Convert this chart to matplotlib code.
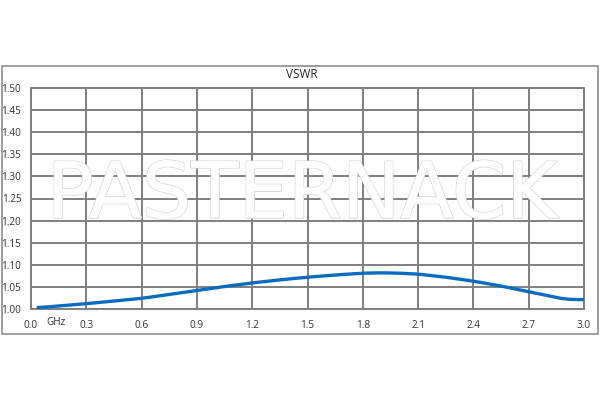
import numpy as np
import matplotlib.pyplot as plt
import matplotlib.patheffects as pe
from matplotlib.patches import Rectangle

# Data
freq_ghz = [0.04, 0.15, 0.3, 0.45, 0.6, 0.75, 0.9, 1.05, 1.2, 1.35, 1.5, 1.65,
            1.8, 1.9, 2.0, 2.1, 2.25, 2.4, 2.55, 2.7, 2.8, 2.9, 3.0]
vswr = [1.003, 1.007, 1.012, 1.018, 1.024, 1.033, 1.042, 1.051, 1.059, 1.066,
        1.072, 1.077, 1.081, 1.082, 1.081, 1.079, 1.072, 1.063, 1.052, 1.039,
        1.030, 1.022, 1.021]
x_ticks = [0.0, 0.3, 0.6, 0.9, 1.2, 1.5, 1.8, 2.1, 2.4, 2.7, 3.0]
y_ticks = [1.00, 1.05, 1.10, 1.15, 1.20, 1.25, 1.30, 1.35, 1.40, 1.45, 1.50]

plt.rcParams['font.family'] = ['Open Sans', 'DejaVu Sans']

fig = plt.figure(figsize=(6, 4), dpi=100)
ax = fig.add_axes([31 / 600, 91 / 400, 553 / 600, 221 / 400])

# outer frame
fig.patches.append(Rectangle((2 / 600, 66 / 400), 596 / 600, 268 / 400,
                             transform=fig.transFigure, fill=False,
                             edgecolor='#8c8c8c', linewidth=1.2))

# smooth line through the read points
xs = np.linspace(freq_ghz[0], freq_ghz[-1], 300)
ys = np.interp(xs, freq_ghz, vswr)
k = np.ones(9) / 9
ys_s = np.convolve(np.pad(ys, 4, mode='edge'), k, mode='valid')
ax.plot(xs, ys_s, color='#0a6cc0', linewidth=2.4, zorder=3)

ax.set_xlim(0, 3.0)
ax.set_ylim(1.0, 1.5)
ax.set_xticks(x_ticks)
ax.set_yticks(y_ticks)
ax.set_xticklabels([f'{v:.1f}' for v in x_ticks])
ax.set_yticklabels([f'{v:.2f}' for v in y_ticks])
ax.tick_params(length=0, labelsize=7.2, colors='#333333')
ax.tick_params(axis='y', pad=7)
ax.tick_params(axis='x', pad=8)
ax.grid(True, color='#7f7f7f', linewidth=1.4)
for s in ax.spines.values():
    s.set_color('#7f7f7f')
    s.set_linewidth(1.4)
ax.set_axisbelow(True)

ax.text(0.136, -0.036, 'GHz', transform=ax.get_xaxis_transform(),
        ha='center', va='top', fontsize=7.2, color='#333333')

fig.text(302 / 600, 1 - 75 / 400, 'VSWR', ha='center', va='center',
         fontsize=8.5, color='#222222')

# watermark
fig.text(302 / 600, 1 - 196 / 400, 'PASTERNACK', ha='center', va='center',
         fontsize=56, color='white', family='DejaVu Sans',
         zorder=2,
         path_effects=[pe.withStroke(linewidth=1.2, foreground='#d5d5d5'),
                       pe.Normal()])

fig.savefig('out.png', dpi=100)
